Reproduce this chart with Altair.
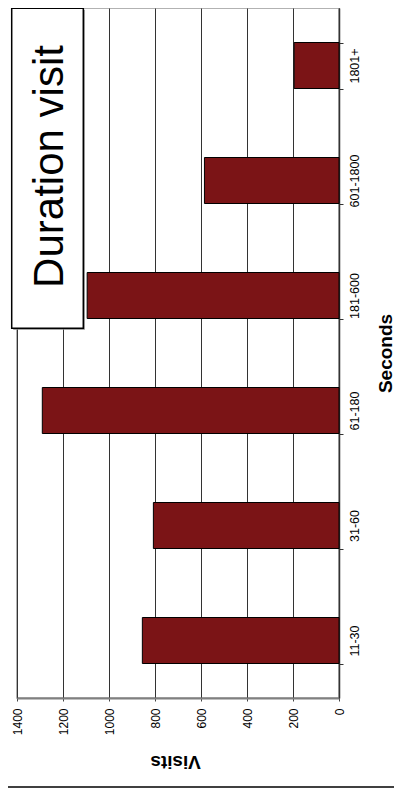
import altair as alt
import pandas as pd

categories = ["11-30", "31-60", "61-180", "181-600", "601-1800", "1801+"]
visits = [855, 807, 1290, 1095, 585, 195]
value_ticks = [0, 200, 400, 600, 800, 1000, 1200, 1400]
title_text = "Duration visit"
x_title = "Visits"
y_title = "Seconds"

df = pd.DataFrame({"cat": categories, "visits": visits})
FONT = "Liberation Sans"
W, H = 322, 690

bars = alt.Chart(df).mark_bar(
    fill="#7B1416", stroke="#000000", strokeWidth=1
).encode(
    y=alt.Y(
        "cat:N",
        sort=categories[::-1],
        scale=alt.Scale(paddingInner=0.6, paddingOuter=0.3),
        axis=alt.Axis(
            orient="right", title=y_title, labelAngle=270, labelAlign="center",
            labelBaseline="top", labelFont=FONT, labelFontSize=12.5, labelColor="#000",
            labelPadding=5, tickSize=4, tickColor="#333", tickBand="extent",
            domainColor="#333", domainWidth=1.5, grid=False,
            titleAngle=270, titleFont=FONT, titleFontSize=19, titleFontWeight="bold",
            titleColor="#000", titleX=46, titleY=H / 2, titleAlign="center",
            titleBaseline="middle",
        ),
    ),
    x=alt.X(
        "visits:Q",
        scale=alt.Scale(domain=[0, 1400], reverse=True, nice=False),
        axis=alt.Axis(
            orient="bottom", title=x_title, values=value_ticks, format="d",
            labelAngle=270, labelAlign="right", labelBaseline="middle", labelFont=FONT,
            labelFontSize=12, labelColor="#000", labelPadding=7, tickSize=3,
            tickColor="#444", domainColor="#808080", domainWidth=2,
            grid=True, gridColor="#333", gridWidth=1,
            titleAngle=180, titleFont=FONT, titleFontSize=19, titleFontWeight="bold",
            titleColor="#000", titleX=158, titleY=63, titleAlign="center",
            titleBaseline="middle",
        ),
    ),
)

one = pd.DataFrame({"t": [title_text]})

shadow = alt.Chart(one).mark_rect(fill="#888888").encode(
    x=alt.value(-3.8), x2=alt.value(67.8), y=alt.value(1.8), y2=alt.value(321.8)
)
box = alt.Chart(one).mark_rect(fill="#ffffff", stroke="#000000", strokeWidth=1.5).encode(
    x=alt.value(-5.3), x2=alt.value(66.3), y=alt.value(0.3), y2=alt.value(320.3)
)
title = alt.Chart(one).mark_text(
    angle=270, font=FONT, fontSize=42, align="center", baseline="alphabetic", color="#000"
).encode(text="t:N", x=alt.value(46), y=alt.value(158.5))

bottom_line = alt.Chart(one).mark_rule(color="#000000", strokeWidth=1.5).encode(
    x=alt.value(-9), x2=alt.value(W + 55), y=alt.value(779)
)

chart = alt.layer(bars, shadow, box, title, bottom_line).properties(
    width=W, height=H, autosize="none",
    padding={"left": 9, "top": 0, "right": 55, "bottom": 90},
    background="#ffffff",
).configure_view(stroke="#999999", strokeWidth=1.5)

chart.save("out.html", embed_options={"renderer": "svg", "actions": False})
